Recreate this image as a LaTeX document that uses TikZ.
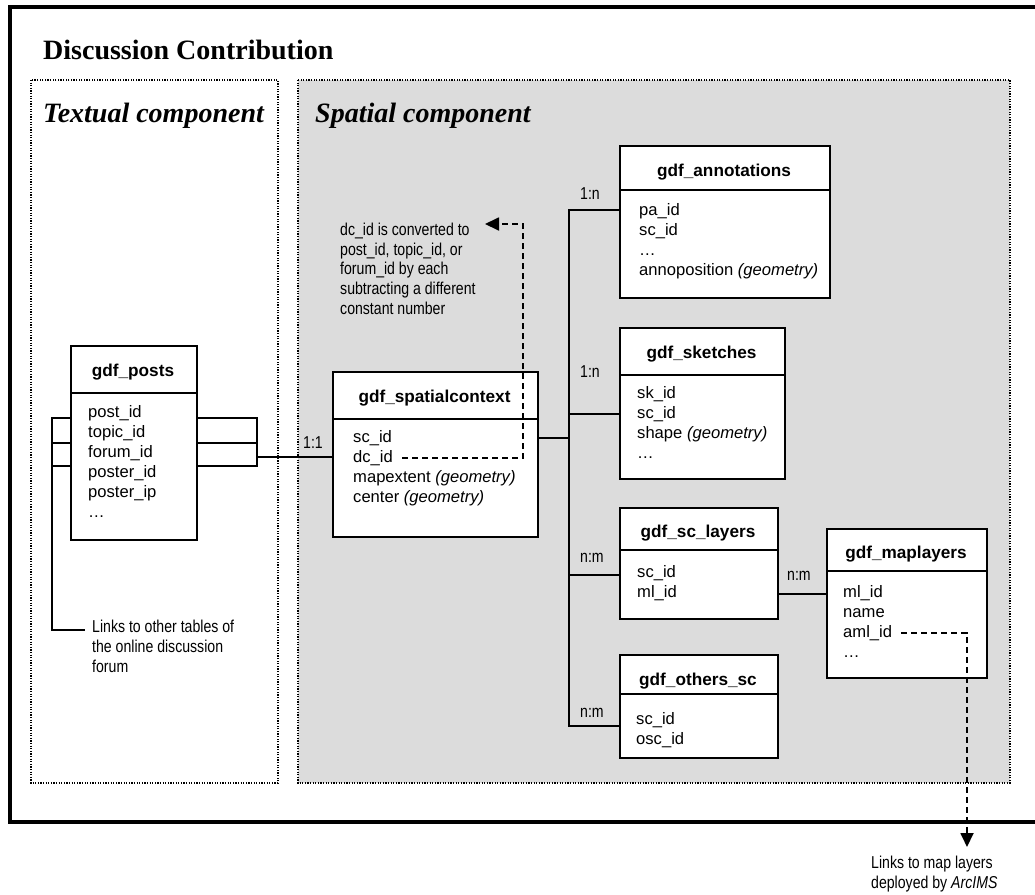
\documentclass[tikz,border=0pt]{standalone}
\usepackage{fontspec}
\setmainfont{Liberation Serif}
\newfontfamily\fieldfont{Liberation Sans}
\newfontfamily\notefont[FakeStretch=0.82]{Liberation Sans}
\usetikzlibrary{arrows.meta}
\definecolor{panel}{HTML}{DCDCDC}

\tikzset{
  outerframe/.style={line width=3.5pt},
  panelbox/.style={line width=1.2pt, dash pattern=on 1.2pt off 1.4pt},
  tbl/.style={draw, fill=white, line width=2pt, inner sep=0pt, anchor=north west},
  hline/.style={line width=2pt},
  hdr/.style={font=\fieldfont\fontsize{17.2}{20}\selectfont\bfseries, inner sep=0pt, anchor=base},
  fld/.style={font=\fieldfont\fontsize{16.6}{20}\selectfont, inner sep=0pt, anchor=base west},
  note/.style={font=\notefont\fontsize{17.2}{20}\selectfont, inner sep=0pt, anchor=base west},
  maintitle/.style={font=\fontsize{28}{32}\selectfont\bfseries, inner sep=0pt, anchor=base west},
  comp/.style={font=\fontsize{28}{32}\selectfont\bfseries\itshape, inner sep=0pt, anchor=base west},
  conn/.style={line width=1.8pt},
  dashln/.style={line width=1.8pt, dash pattern=on 6pt off 4pt},
  tipa/.style={-{Triangle[length=14pt,width=13pt]}}
}

\begin{document}
\begin{tikzpicture}[x=1pt,y=-1pt]
\useasboundingbox (0,0) rectangle (1035,894);

% outer frame, open towards the right edge
\draw[outerframe] (1045,7) -- (10,7) -- (10,822) -- (1045,822);

% the two component panels
\draw[panelbox] (31,80) rectangle (278,783);
\draw[panelbox, fill=panel] (298,80) rectangle (1010,783);

\node[maintitle] (ttl) at (43,59) {Discussion Contribution};
\node[comp] (txtc) at (43,122) {Textual component};
\node[comp] (spc) at (315,122) {Spatial component};

% ---------- tables ----------
% gdf_posts
\node[tbl, minimum width=126pt, minimum height=194pt] (posts) at (70,345) {};
\draw[hline] (posts.west |- 0,393) -- (posts.east |- 0,393);
\node[hdr] (posts-t) at (133,376) {gdf\_posts};
\foreach \t [count=\i] in {post\_id, topic\_id, forum\_id, poster\_id, poster\_ip, …}
  \node[fld] (posts-f\i) at (88,397+20*\i) {\t};

% gdf_spatialcontext
\node[tbl, minimum width=205pt, minimum height=165pt] (sc) at (332,371) {};
\draw[hline] (sc.west |- 0,419) -- (sc.east |- 0,419);
\node[hdr] (sc-t) at (434.5,402) {gdf\_spatialcontext};
\foreach \t [count=\i] in {sc\_id, dc\_id, mapextent \textit{(geometry)}, center \textit{(geometry)}}
  \node[fld] (sc-f\i) at (353,422+20*\i) {\t};

% gdf_annotations
\node[tbl, minimum width=210pt, minimum height=152pt] (ann) at (619,145) {};
\draw[hline] (ann.west |- 0,190) -- (ann.east |- 0,190);
\node[hdr] (ann-t) at (724,176) {gdf\_annotations};
\foreach \t [count=\i] in {pa\_id, sc\_id, …, annoposition \textit{(geometry)}}
  \node[fld] (ann-f\i) at (639,195+20*\i) {\t};

% gdf_sketches
\node[tbl, minimum width=165pt, minimum height=151pt] (sk) at (619,327) {};
\draw[hline] (sk.west |- 0,375) -- (sk.east |- 0,375);
\node[hdr] (sk-t) at (701.5,358) {gdf\_sketches};
\foreach \t [count=\i] in {sk\_id, sc\_id, shape \textit{(geometry)}, …}
  \node[fld] (sk-f\i) at (637,378+20*\i) {\t};

% gdf_sc_layers
\node[tbl, minimum width=158pt, minimum height=111pt] (scl) at (619,507) {};
\draw[hline] (scl.west |- 0,550) -- (scl.east |- 0,550);
\node[hdr] (scl-t) at (698,537) {gdf\_sc\_layers};
\foreach \t [count=\i] in {sc\_id, ml\_id}
  \node[fld] (scl-f\i) at (637,557+20*\i) {\t};

% gdf_maplayers
\node[tbl, minimum width=160pt, minimum height=149pt] (ml) at (826,528) {};
\draw[hline] (ml.west |- 0,571) -- (ml.east |- 0,571);
\node[hdr] (ml-t) at (906,558) {gdf\_maplayers};
\foreach \t [count=\i] in {ml\_id, name, aml\_id, …}
  \node[fld] (ml-f\i) at (843,577+20*\i) {\t};

% gdf_others_sc
\node[tbl, minimum width=158pt, minimum height=103pt] (osc) at (619,654) {};
\draw[hline] (osc.west |- 0,694) -- (osc.east |- 0,694);
\node[hdr] (osc-t) at (698,685) {gdf\_others\_sc};
\foreach \t [count=\i] in {sc\_id, osc\_id}
  \node[fld] (osc-f\i) at (636,704+20*\i) {\t};

% ---------- connectors ----------
% key fields of gdf_posts joined towards gdf_spatialcontext
\coordinate (rb) at (257,0);
\draw[conn] (posts.east |- 0,418) -- (rb |- 0,418) -- (rb |- 0,466) -- (posts.east |- 0,466);
\draw[conn] (posts.east |- 0,443) -- (rb |- 0,443);
\draw[conn] (rb |- 0,457) -- (sc.west |- 0,457);
\node[note] (l11) at (303,448) {1:1};

% key fields of gdf_posts joined towards the rest of the forum
\coordinate (lb) at (52,0);
\draw[conn] (posts.west |- 0,418) -- (lb |- 0,418) -- (lb |- 0,630) -- (85,630);
\draw[conn] (posts.west |- 0,443) -- (lb |- 0,443);
\draw[conn] (posts.west |- 0,466) -- (lb |- 0,466);
\node[note] (fl1) at (92,632) {Links to other tables of};
\node[note] (fl2) at (92,652) {the online discussion};
\node[note] (fl3) at (92,672) {forum};

% bus from gdf_spatialcontext to its dependent tables
\coordinate (busT) at (569,210);
\coordinate (busB) at (569,726);
\draw[conn] (sc.east |- 0,438) -- (busT |- 0,438);
\draw[conn] (ann.west |- 0,210) -- (busT) -- (busB) -- (osc.west |- 0,726);
\draw[conn] (busT |- 0,414) -- (sk.west |- 0,414);
\draw[conn] (busT |- 0,575) -- (scl.west |- 0,575);
\node[note] (c1) at (580,199) {1:n};
\node[note] (c2) at (580,377) {1:n};
\node[note] (c3) at (580,562) {n:m};
\node[note] (c4) at (580,717) {n:m};

% gdf_sc_layers to gdf_maplayers
\draw[conn] (scl.east |- 0,594) -- (ml.west |- 0,594);
\node[note] (c5) at (787,580) {n:m};

% dc_id conversion note
\coordinate (noteptr) at (485,224);
\draw[dashln, tipa] ([xshift=9pt]sc-f2.east) -| (523,224) -- (noteptr);
\node[note] (n1) at (340,235) {dc\_id is converted to};
\node[note] (n2) at (340,255) {post\_id, topic\_id, or};
\node[note] (n3) at (340,274) {forum\_id by each};
\node[note] (n4) at (340,294) {subtracting a different};
\node[note] (n5) at (340,314) {constant number};

% aml_id link to the map server
\coordinate (maplink) at (967,847);
\draw[dashln, tipa] ([xshift=9pt]ml-f3.east) -| (maplink);
\node[note] (m1) at (871,868) {Links to map layers};
\node[note] (m2) at (871,888) {deployed by \textit{ArcIMS}};

\end{tikzpicture}
\end{document}
